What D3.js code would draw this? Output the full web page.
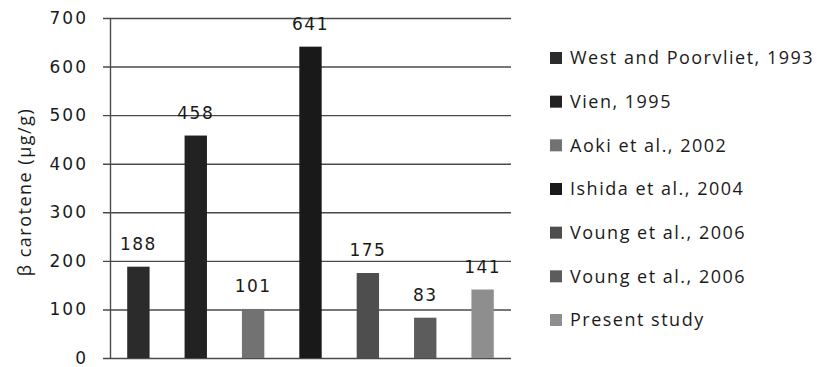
<!DOCTYPE html>
<html><head><meta charset="utf-8">
<script src="https://cdn.jsdelivr.net/npm/d3@7"></script>
<style>body{margin:0;background:#fff;}svg{display:block;}</style>
</head><body>
<svg id="c" width="819" height="367"></svg>
<script>
const categories = ["West and Poorvliet, 1993","Vien, 1995","Aoki et al., 2002","Ishida et al., 2004","Voung et al., 2006","Voung et al., 2006","Present study"];
const values = [188, 458, 101, 641, 175, 83, 141];
const colors = ["#2b2b2b","#222222","#727272","#191919","#4e4e4e","#5c5c5c","#8e8e8e"];
const yTicks = [0,100,200,300,400,500,600,700];
const yTitle = "\u03B2 carotene (\u00B5g/g)";

const svg = d3.select("#c");
const mL = 110, mR = 511, mT = 18, mB = 358;
const idx = d3.range(categories.length);
const x = d3.scaleBand().domain(idx).range([mL, mR]).paddingInner(0.61).paddingOuter(0.3);
const y = d3.scaleLinear().domain([0,700]).range([mB, mT]);

const gAxis = svg.append("g").attr("transform", `translate(${mL},0)`)
  .call(d3.axisLeft(y).tickValues(yTicks).tickSize(-(mR-mL)).tickSizeOuter(0).tickPadding(22));
gAxis.select(".domain").attr("stroke","#4a4a4a").attr("stroke-width",1.4);
gAxis.selectAll(".tick line").attr("stroke","#4a4a4a").attr("stroke-width",1.4).attr("x1",-7);
gAxis.selectAll(".tick text").attr("font-family","DejaVu Sans").attr("font-size",17)
  .attr("letter-spacing","2px").attr("fill","#1a1a1a");

svg.selectAll("rect.bar").data(idx).join("rect").attr("class","bar")
  .attr("x",i=>x(i)).attr("width",x.bandwidth())
  .attr("y",i=>y(values[i])).attr("height",i=>mB-y(values[i])).attr("fill",i=>colors[i]);

svg.selectAll("text.lbl").data(idx).join("text").attr("class","lbl")
  .attr("x",i=>x(i)+x.bandwidth()/2).attr("y",i=>y(values[i])-17)
  .attr("text-anchor","middle").attr("font-family","DejaVu Sans").attr("font-size",17)
  .attr("letter-spacing","1.5px").attr("fill","#1a1a1a").text(i=>values[i]);

svg.append("text").attr("transform","translate(31,192) rotate(-90)")
  .attr("text-anchor","middle").attr("font-family","Open Sans").attr("font-size",18)
  .attr("letter-spacing","1.5px").attr("fill","#1a1a1a").text(yTitle);

const legY = d3.scalePoint().domain(idx).range([58,320]);
const lg = svg.selectAll("g.leg").data(idx).join("g").attr("class","leg")
  .attr("transform",i=>`translate(550,${legY(i)})`);
lg.append("rect").attr("x",0).attr("y",-6).attr("width",12).attr("height",12).attr("fill",i=>colors[i]);
lg.append("text").attr("x",20).attr("y",0).attr("dy","0.35em").attr("font-family","Open Sans")
  .attr("font-size",18).attr("letter-spacing","1.5px").attr("fill","#1a1a1a").text(i=>categories[i]);
</script>
</body></html>
